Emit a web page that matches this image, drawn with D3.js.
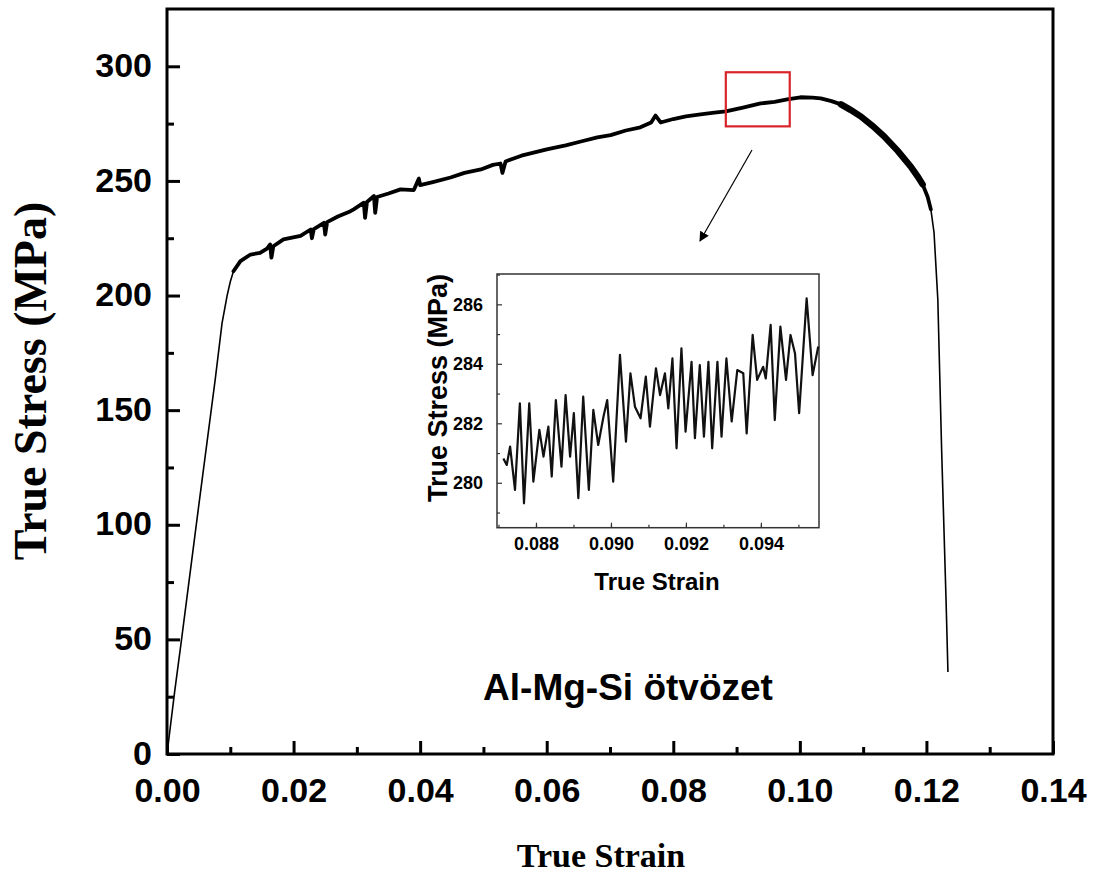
<!DOCTYPE html>
<html>
<head>
<meta charset="utf-8">
<script src="https://cdn.jsdelivr.net/npm/d3@7"></script>
<style>
  body { margin: 0; background: #fff; }
  svg { display: block; }
  .tick text { font-family: "Liberation Sans", Arial, sans-serif; font-weight: bold; fill: #000; }
  .main .tick text { font-size: 34px; }
  .inset .tick text { font-size: 18px; }
</style>
</head>
<body>
<svg id="chart" width="1103" height="877"></svg>
<script>
// main tensile curve
const strain = [
  0.0000, 0.0012, 0.0023, 0.0050, 0.0076, 0.0087, 0.0095, 0.0100, 0.0105, 0.0116,
  0.0132, 0.0147, 0.0158, 0.0163, 0.0165, 0.0168, 0.0184, 0.0211, 0.0227, 0.0229,
  0.0232, 0.0248, 0.0250, 0.0253, 0.0270, 0.0290, 0.0295, 0.0311, 0.0313, 0.0316,
  0.0327, 0.0329, 0.0332, 0.0350, 0.0369, 0.0390, 0.0398, 0.0400, 0.0420, 0.0448,
  0.0470, 0.0496, 0.0515, 0.0527, 0.0530, 0.0535, 0.0560, 0.0600, 0.0630, 0.0654,
  0.0680, 0.0701, 0.0725, 0.0748, 0.0765, 0.0772, 0.0780, 0.0800, 0.0820, 0.0843,
  0.0865, 0.0883, 0.0910, 0.0938, 0.0960, 0.0980, 0.1001, 0.1020, 0.1033, 0.1050,
  0.1065, 0.1080, 0.1096, 0.1115, 0.1133, 0.1155, 0.1175, 0.1186, 0.1194, 0.1202,
  0.1207, 0.1212, 0.1218, 0.1224, 0.1231, 0.1234,
];
const stress = [
  0, 27, 50, 108, 163, 188, 200, 206, 210.6, 215,
  217.9, 218.6, 220.5, 222.3, 216.5, 221.5, 224.5, 226, 228.8, 225,
  229, 231.7, 226.6, 232, 234.5, 236.8, 237.6, 240.5, 233.9, 240.8,
  243.4, 236.1, 243, 244.5, 246.3, 246, 251, 248.2, 249.5, 251.5,
  253.5, 255, 257, 257.6, 253.5, 258.5, 261, 263.8, 265.5, 267.2,
  269, 270, 272, 273.4, 275.5, 278.5, 275.5, 277, 278.2, 279,
  279.8, 280.3, 282, 283.8, 284.5, 285.6, 286.5, 286.3, 286, 284.8,
  283.4, 281, 278.2, 274, 269.5, 263, 256.3, 252, 248.5, 243,
  237.6, 227.5, 198.3, 132.8, 67.2, 35.8,
];

// zoomed serrations (inset), turning points
const insetStrain = [
  0.08713, 0.08722, 0.08731, 0.08744, 0.08757, 0.08768, 0.08782, 0.08793, 0.08809, 0.08820,
  0.08833, 0.08842, 0.08853, 0.08868, 0.08879, 0.08891, 0.08901, 0.08913, 0.08926, 0.08941,
  0.08953, 0.08966, 0.08980, 0.08990, 0.09006, 0.09024, 0.09040, 0.09052, 0.09064, 0.09079,
  0.09093, 0.09104, 0.09120, 0.09131, 0.09144, 0.09153, 0.09164, 0.09175, 0.09188, 0.09199,
  0.09215, 0.09224, 0.09237, 0.09248, 0.09260, 0.09270, 0.09284, 0.09295, 0.09308, 0.09322,
  0.09337, 0.09353, 0.09362, 0.09378, 0.09390, 0.09406, 0.09413, 0.09426, 0.09437, 0.09452,
  0.09467, 0.09479, 0.09491, 0.09502, 0.09522, 0.09538, 0.09553,
];
const insetStress = [
  280.82, 280.60, 281.22, 279.76, 282.67, 279.31, 282.67, 280.04, 281.78, 280.88,
  281.89, 280.21, 282.78, 280.54, 282.95, 280.88, 282.34, 279.48, 282.90, 279.76,
  282.45, 281.27, 282.22, 282.78, 280.04, 284.30, 281.38, 283.68, 282.56, 282.17,
  283.57, 281.89, 283.85, 282.95, 283.68, 282.50, 284.18, 281.16, 284.52, 281.72,
  284.07, 281.50, 283.96, 281.55, 284.07, 281.16, 284.07, 281.55, 284.18, 282.06,
  283.79, 283.68, 281.66, 284.97, 283.46, 283.90, 283.51, 285.31, 282.11, 285.25,
  283.46, 284.97, 284.35, 282.34, 286.20, 283.62, 284.58,
];

// ticks
const xTicks = [0, 0.02, 0.04, 0.06, 0.08, 0.10, 0.12, 0.14];
const yTicks = [0, 50, 100, 150, 200, 250, 300];
const insetXTicks = [0.088, 0.090, 0.092, 0.094];
const insetYTicks = [280, 282, 284, 286];

// red box marking the zoomed window on the main curve
const zoomBox = { x0: 0.0883, x1: 0.0984, y0: 273.8, y1: 297.4 };

const svg = d3.select('#chart');
const data = strain.map((d, i) => ({ x: d, y: stress[i] }));
const insetData = insetStrain.map((d, i) => ({ x: d, y: insetStress[i] }));

// ---- main plot ----
const x = d3.scaleLinear().domain([0, 0.14]).range([167, 1053]);
const y = d3.scaleLinear().domain([0, 325]).range([754, 9]);

const main = svg.append('g').attr('class', 'main');

const xMinor = d3.range(0.01, 0.14, 0.02);
const yMinor = d3.range(25, 325, 50);

main.append('g')
  .attr('transform', `translate(0,${y(0)})`)
  .call(d3.axisBottom(x).tickValues(xMinor).tickSize(-7).tickFormat(''))
  .call(g => g.select('.domain').remove())
  .call(g => g.selectAll('line').attr('stroke', '#000').attr('stroke-width', 3));

main.append('g')
  .attr('transform', `translate(0,${y(0)})`)
  .call(d3.axisBottom(x).tickValues(xTicks).tickSize(-13).tickPadding(24).tickFormat(d3.format('.2f')))
  .call(g => g.select('.domain').remove())
  .call(g => g.selectAll('line').attr('stroke', '#000').attr('stroke-width', 3));

main.append('g')
  .attr('transform', `translate(${x(0)},0)`)
  .call(d3.axisLeft(y).tickValues(yMinor).tickSize(-7).tickFormat(''))
  .call(g => g.select('.domain').remove())
  .call(g => g.selectAll('line').attr('stroke', '#000').attr('stroke-width', 3));

main.append('g')
  .attr('transform', `translate(${x(0)},0)`)
  .call(d3.axisLeft(y).tickValues(yTicks).tickSize(-13).tickPadding(15))
  .call(g => g.select('.domain').remove())
  .call(g => g.selectAll('line').attr('stroke', '#000').attr('stroke-width', 3))
  .call(g => g.selectAll('text').attr('dy', '0.3em'));

main.append('rect')
  .attr('x', x(0))
  .attr('y', y(325))
  .attr('width', x(0.14) - x(0))
  .attr('height', y(0) - y(325))
  .attr('fill', 'none')
  .attr('stroke', '#000')
  .attr('stroke-width', 3);

const line = d3.line().x(d => x(d.x)).y(d => y(d.y));

// thin line over the whole curve, thicker where the serrations blur into a band
main.append('path')
  .datum(data)
  .attr('d', line)
  .attr('fill', 'none')
  .attr('stroke', '#000')
  .attr('stroke-width', 1.6);

main.append('path')
  .datum(data.filter(d => d.x >= 0.0105 && d.x <= 0.1207))
  .attr('d', line)
  .attr('fill', 'none')
  .attr('stroke', '#000')
  .attr('stroke-width', 3.8)
  .attr('stroke-linejoin', 'round')
  .attr('stroke-linecap', 'round');

main.append('path')
  .datum(data.filter(d => d.x >= 0.1065 && d.x <= 0.1194))
  .attr('d', line)
  .attr('fill', 'none')
  .attr('stroke', '#000')
  .attr('stroke-width', 6.5)
  .attr('stroke-linecap', 'round');

main.append('rect')
  .attr('x', x(zoomBox.x0))
  .attr('y', y(zoomBox.y1))
  .attr('width', x(zoomBox.x1) - x(zoomBox.x0))
  .attr('height', y(zoomBox.y0) - y(zoomBox.y1))
  .attr('fill', 'none')
  .attr('stroke', '#d8232a')
  .attr('stroke-width', 2.2);

// arrow pointing to the inset
svg.append('defs').append('marker')
  .attr('id', 'head')
  .attr('viewBox', '0 0 10 10')
  .attr('refX', 9)
  .attr('refY', 5)
  .attr('markerWidth', 10)
  .attr('markerHeight', 10)
  .attr('markerUnits', 'userSpaceOnUse')
  .attr('orient', 'auto')
  .append('path')
  .attr('d', 'M0,0 L10,5 L0,10 Z')
  .attr('fill', '#000');

main.append('line')
  .attr('x1', 752).attr('y1', 150)
  .attr('x2', 700).attr('y2', 241)
  .attr('stroke', '#000')
  .attr('stroke-width', 1.2)
  .attr('marker-end', 'url(#head)');

// axis titles
svg.append('text')
  .attr('transform', 'translate(46,381) rotate(-90)')
  .attr('text-anchor', 'middle')
  .style('font-family', '"Liberation Serif", "Times New Roman", serif')
  .style('font-weight', 'bold')
  .style('font-size', '46px')
  .text('True Stress (MPa)');

svg.append('text')
  .attr('x', 601)
  .attr('y', 867)
  .attr('text-anchor', 'middle')
  .style('font-family', '"Liberation Serif", "Times New Roman", serif')
  .style('font-weight', 'bold')
  .style('font-size', '34px')
  .text('True Strain');

svg.append('text')
  .attr('x', 628)
  .attr('y', 700)
  .attr('text-anchor', 'middle')
  .style('font-family', '"Liberation Sans", Arial, sans-serif')
  .style('font-weight', 'bold')
  .style('font-size', '37px')
  .text('Al-Mg-Si ötvözet');

// ---- inset ----
const ix = d3.scaleLinear().domain([0.08696, 0.09555]).range([497, 819]);
const iy = d3.scaleLinear().domain([278.49, 287.02]).range([527.7, 274]);
const inset = svg.append('g').attr('class', 'inset');

inset.append('g')
  .attr('transform', `translate(0,${iy.range()[0]})`)
  .call(d3.axisBottom(ix).tickValues(d3.range(0.087, 0.0955, 0.001)).tickSize(-3).tickFormat(''))
  .call(g => g.select('.domain').remove())
  .call(g => g.selectAll('line').attr('stroke', '#333').attr('stroke-width', 1.2));

inset.append('g')
  .attr('transform', `translate(0,${iy.range()[0]})`)
  .call(d3.axisBottom(ix).tickValues(insetXTicks).tickSize(-5).tickPadding(10).tickFormat(d3.format('.3f')))
  .call(g => g.select('.domain').remove())
  .call(g => g.selectAll('line').attr('stroke', '#333').attr('stroke-width', 1.2));

inset.append('g')
  .attr('transform', `translate(${ix.range()[0]},0)`)
  .call(d3.axisLeft(iy).tickValues([279, 281, 283, 285, 287]).tickSize(-3).tickFormat(''))
  .call(g => g.select('.domain').remove())
  .call(g => g.selectAll('line').attr('stroke', '#333').attr('stroke-width', 1.2));

inset.append('g')
  .attr('transform', `translate(${ix.range()[0]},0)`)
  .call(d3.axisLeft(iy).tickValues(insetYTicks).tickSize(-5).tickPadding(14))
  .call(g => g.select('.domain').remove())
  .call(g => g.selectAll('line').attr('stroke', '#333').attr('stroke-width', 1.2));

inset.append('rect')
  .attr('x', ix.range()[0])
  .attr('y', iy.range()[1])
  .attr('width', ix.range()[1] - ix.range()[0])
  .attr('height', iy.range()[0] - iy.range()[1])
  .attr('fill', 'none')
  .attr('stroke', '#333')
  .attr('stroke-width', 1.5);

inset.append('path')
  .datum(insetData)
  .attr('d', d3.line().x(d => ix(d.x)).y(d => iy(d.y)))
  .attr('fill', 'none')
  .attr('stroke', '#111')
  .attr('stroke-width', 2.2)
  .attr('stroke-linejoin', 'round');

inset.append('text')
  .attr('transform', 'translate(447,388) rotate(-90)')
  .attr('text-anchor', 'middle')
  .style('font-family', '"Liberation Sans", Arial, sans-serif')
  .style('font-weight', 'bold')
  .style('font-size', '27px')
  .text('True Stress (MPa)');

inset.append('text')
  .attr('x', 657)
  .attr('y', 590)
  .attr('text-anchor', 'middle')
  .style('font-family', '"Liberation Sans", Arial, sans-serif')
  .style('font-weight', 'bold')
  .style('font-size', '24px')
  .text('True Strain');
</script>
</body>
</html>
